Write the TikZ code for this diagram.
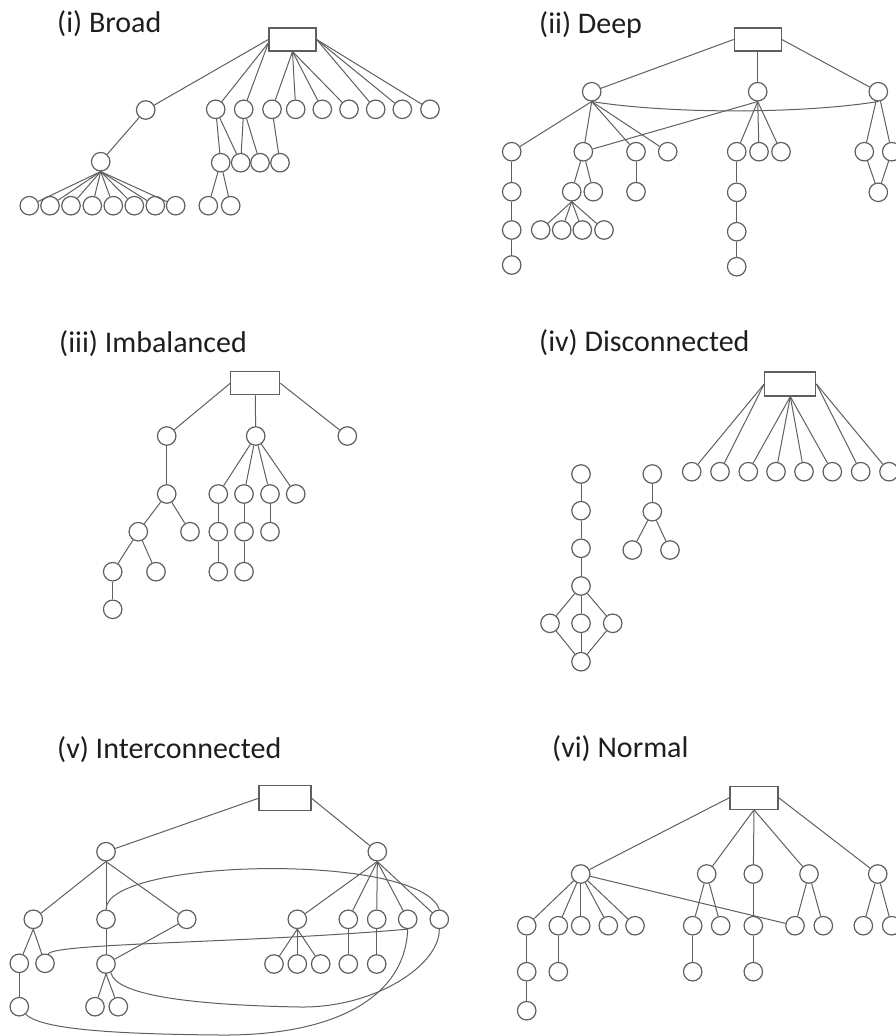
\documentclass[tikz,border=0pt]{standalone}
\usepackage{fontspec}
\setmainfont{Carlito}
\definecolor{lc}{RGB}{95,95,95}
\definecolor{tc}{RGB}{30,30,30}
\begin{document}
\begin{tikzpicture}[x=1pt,y=-1pt,
 circ/.style={circle,draw=lc,line width=1.2pt,minimum size=18.5pt,inner sep=0pt},
 box/.style={rectangle,draw=lc,line width=1.2pt,inner sep=0pt,minimum height=23pt},
 ln/.style={draw=lc,line width=1pt},
 ttl/.style={anchor=base west,inner sep=0pt,text=tc,font=\fontsize{30}{36}\selectfont}]
\useasboundingbox (0,0) rectangle (896,1036);

% titles
\node[ttl] (t1) at (57,32) {(i) Broad};
\node[ttl] (t2) at (539,33) {(ii) Deep};
\node[ttl] (t3) at (59,352) {(iii) Imbalanced};
\node[ttl] (t4) at (539,351) {(iv) Disconnected};
\node[ttl] (t5) at (57,758) {(v) Interconnected};
\node[ttl] (t6) at (552,757) {(vi) Normal};

% ---------------- (i) Broad
\node[box,minimum width=47pt] (Ra) at (292.5,39.5) {};
\foreach \n/\x/\y in {a1/145.7/110, a2/215.7/109.3, a3/243.7/109.3, a4/272/109.3, a5/295.7/109.3,
  a6/322.3/109.3, a7/349/109.3, a8/375.7/109.3, a9/402.3/109.3, a10/430/109.3,
  a11/100.7/161.7,
  b1/29.3/205.7, b2/50/205.7, b3/71/205.7, b4/92.3/205.7, b5/113.3/205.7, b6/134.3/205.7, b7/155.3/205.7, b8/175.7/205.7,
  c1/220.7/162.7, c2/240.7/162.7, c3/260/162.7, c4/280/162.7,
  d1/208.3/205.7, d2/230.7/205.7}
  \node[circ] (\n) at (\x,\y) {};
\foreach \a/\b in {Ra.west/a1, Ra.188/a2, Ra.188/a3, Ra.south/a4, Ra.south/a5, Ra.south/a6, Ra.south/a7,
  Ra.east/a8, Ra.east/a9, Ra.east/a10, a1/a11,
  a11.south/b1, a11.south/b2, a11.south/b3, a11.south/b4, a11.south/b5, a11.south/b6, a11.south/b7, a11.south/b8,
  a2/c1, a2/c2, a3/c2, a3/c3, a4/c4, c1/d1, c1/d2}
  \draw[ln] (\a) -- (\b);

% ---------------- (ii) Deep
\node[box,minimum width=47pt] (Rb) at (757.7,39.5) {};
\foreach \n/\x/\y in {e1/591.7/91.7, e2/757.7/91.7, e3/878.3/91.7,
  f1/511.7/151.7, f2/583.3/151.7, f3/636/151.7, f4/667.7/151.7,
  g1/511.7/191.7, g2/511.7/230, g3/511.7/265,
  h1/571.7/191.7, h2/593.3/191.7,
  i1/540.7/230, i2/561.7/230, i3/582.3/230, i4/604/230,
  j1/636/191.7,
  k1/736.7/151.7, k2/759/151.7, k3/781/151.7,
  l1/736.7/192.3, l2/736.7/231.7, l3/736.7/266.7,
  m1/864.3/151.7, m2/891.7/151.7, m3/878.3/192.3}
  \node[circ] (\n) at (\x,\y) {};
\foreach \a/\b in {Rb.west/e1, Rb.south/e2, Rb.east/e3,
  e1.south/f1, e1.south/f2, e1.south/f3, e1.south/f4, e2.south/f2,
  f1/g1, g1/g2, g2/g3, f2/h1, f2/h2,
  h1.south/i1, h1.south/i2, h1.south/i3, h1.south/i4, f3/j1,
  e2.south/k1, e2.south/k2, e2.south/k3, k1/l1, l1/l2, l2/l3,
  e3/m1, e3/m2, m1/m3, m2/m3}
  \draw[ln] (\a) -- (\b);
\draw[ln] (e1.south) .. controls (670,114) and (800,114) .. (e3.south);

% ---------------- (iii) Imbalanced
\node[box,minimum width=49pt] (Rc) at (255.3,383.3) {};
\foreach \n/\x/\y in {n1/166.7/436, n2/255.7/436, n3/347.3/436,
  o1/166.7/494, p1/138.3/531.7, p2/190/531.7, q1/112.7/571.7, q2/156/571.7, r1/112.7/609.3,
  s1/218.3/494, s2/244/494, s3/270/494, s4/295.7/494,
  t1c/218.3/531.7, u1/218.3/571.7, t2c/244/531.7, u2/244/571.7, t3c/270/531.7}
  \node[circ] (\n) at (\x,\y) {};
\foreach \a/\b in {Rc.west/n1, Rc.south/n2, Rc.east/n3,
  n1/o1, o1/p1, o1/p2, p1/q1, p1/q2, q1/r1,
  n2/s1, n2/s2, n2/s3, n2/s4, s1/t1c, t1c/u1, s2/t2c, t2c/u2, s3/t3c}
  \draw[ln] (\a) -- (\b);

% ---------------- (iv) Disconnected
\node[box,minimum width=51pt,minimum height=24pt] (Rd) at (790.3,384) {};
\foreach \n/\x in {v1/691.7, v2/720, v3/748.3, v4/776, v5/804, v6/832.3, v7/860.7, v8/889}
  \node[circ] (\n) at (\x,471.7) {};
\foreach \n/\x/\y in {w1/581/474, w2/581/510.7, w3/581/548.3, w4/581/586,
  x1/550/623.3, x2/581/623.3, x3/612.7/623.3, x4/581/661.7,
  y1/652.3/474, y2/652.3/511.7, y3/632.3/550, y4/670/550}
  \node[circ] (\n) at (\x,\y) {};
\foreach \a/\b in {Rd.west/v1, Rd.west/v2, Rd.south/v3, Rd.south/v4, Rd.south/v5, Rd.south/v6,
  Rd.east/v7, Rd.east/v8,
  w1/w2, w2/w3, w3/w4, w4/x1, w4/x2, w4/x3, x1/x4, x2/x4, x3/x4,
  y1/y2, y2/y3, y2/y4}
  \draw[ln] (\a) -- (\b);

% ---------------- (v) Interconnected
\node[box,minimum width=52pt,minimum height=25pt] (Re) at (285,798.3) {};
\foreach \n/\x/\y in {z1/106/851.7, z2/377.3/851.7,
  A/33.3/919.3, B/106/919.3, C/186.7/919.3,
  A1/19.3/963.3, A2/45/963.3, A3/19.3/1006.7,
  B2/106/964, B3/95/1006.7, B4/118.3/1006.7,
  D1/297.3/919.3, D2/348.3/919.3, D3/376.7/919.3, D4/407.7/919.3, D5/439.3/919.3,
  E1/274/964, E2/297.3/964, E3/320.7/964, E4/348.3/964, E5/376.7/964}
  \node[circ] (\n) at (\x,\y) {};
\foreach \a/\b in {Re.west/z1, Re.east/z2,
  z1.south/A, z1.south/B, z1.south/C, A.south/A1, A.south/A2, A1/A3,
  B/B2, B2.south/B3, B2.south/B4, C/B2,
  z2.south/D1, z2.south/D2, z2.south/D3, z2.south/D4, z2.south/D5,
  D1.south/E1, D1.south/E2, D1.south/E3, D2/E4, D3/E5}
  \draw[ln] (\a) -- (\b);
\draw[ln] (B.north) .. controls (106,858) and (420,852) .. (D5.north);
\draw[ln] (A2.70) .. controls (52,943) and (250,943) .. (D4.south);
\draw[ln] (B2.-60) .. controls (115,995) and (190,1005) .. (300,1007)
  .. controls (375,1008) and (440,965) .. (D5.south);
\draw[ln] (A3.-50) .. controls (40,1028) and (100,1034) .. (220,1035)
  .. controls (330,1036) and (405,1000) .. (D4.south);

% ---------------- (vi) Normal
\node[box,minimum width=48pt] (Rf) at (754,797.7) {};
\foreach \n/\x/\y in {F0/580.7/874, F1/706.7/874, F2/753.3/874, F3/809/874, F4/877.7/874,
  G1/526.7/925.7, G2/558.3/925.7, G3/580.7/925.7, G4/608.3/925.7, G5/635/925.7,
  H1/526.7/971.7, H2/526.7/1010.7, H3/558.3/971.7,
  K1/692.7/925.7, K2/720.7/925.7, K3/692.7/971.7, K4/753.3/925.7, K5/753.3/971.7,
  J1/795/925.7, J2/823.3/925.7, M1/863.3/925.7, M2/891.7/925.7}
  \node[circ] (\n) at (\x,\y) {};
\foreach \a/\b in {Rf.west/F0, Rf.south/F1, Rf.south/F2, Rf.south/F3, Rf.east/F4,
  F0/G1, F0/G2, F0/G3, F0/G4, F0/G5, G1/H1, H1/H2, G2/H3, F0/J1,
  F1/K1, F1/K2, K1/K3, F2/K4, K4/K5, F3/J1, F3/J2, F4/M1, F4/M2}
  \draw[ln] (\a) -- (\b);
\end{tikzpicture}
\end{document}
